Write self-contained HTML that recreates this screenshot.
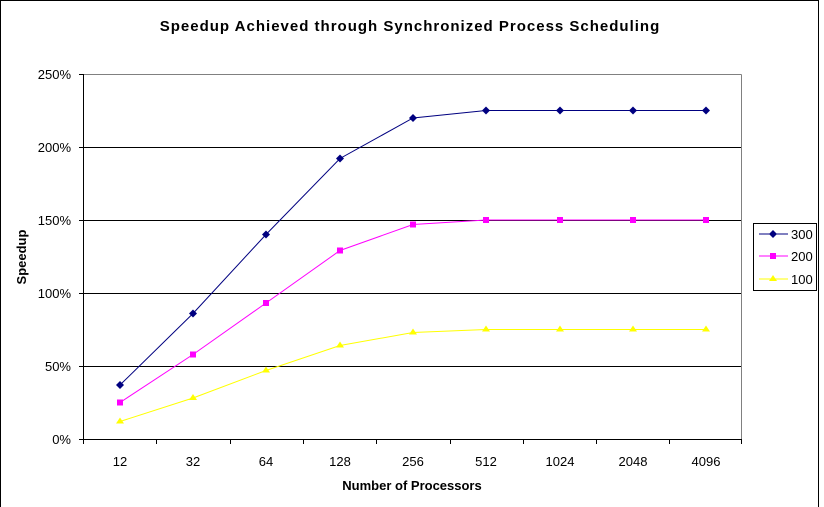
<!DOCTYPE html>
<html><head><meta charset="utf-8"><style>body{margin:0;background:#fff}svg{display:block}text{font-family:"Liberation Sans",Arial,sans-serif}</style></head><body>
<svg width="824" height="507" viewBox="0 0 824 507" xmlns="http://www.w3.org/2000/svg">
<rect x="0.5" y="0.5" width="818" height="520" fill="#fff" stroke="#000"/>
<text x="410" y="31" font-size="15" text-anchor="middle" font-weight="bold" letter-spacing="1" fill="#000">Speedup Achieved through Synchronized Process Scheduling</text>
<g stroke="#000" stroke-width="1">
<line x1="83" y1="147.5" x2="741" y2="147.5"/>
<line x1="83" y1="220.5" x2="741" y2="220.5"/>
<line x1="83" y1="293.5" x2="741" y2="293.5"/>
<line x1="83" y1="366.5" x2="741" y2="366.5"/>
</g>
<line x1="83" y1="74.5" x2="741.5" y2="74.5" stroke="#808080"/>
<line x1="741.5" y1="74.5" x2="741.5" y2="439" stroke="#808080"/>
<g stroke="#000">
<line x1="83.5" y1="74" x2="83.5" y2="439"/>
<line x1="79" y1="439.5" x2="742" y2="439.5"/>
<line x1="79" y1="74.5" x2="83" y2="74.5"/><line x1="79" y1="147.5" x2="83" y2="147.5"/><line x1="79" y1="220.5" x2="83" y2="220.5"/><line x1="79" y1="293.5" x2="83" y2="293.5"/><line x1="79" y1="366.5" x2="83" y2="366.5"/>
<line x1="83.5" y1="439" x2="83.5" y2="444"/><line x1="156.5" y1="439" x2="156.5" y2="444"/><line x1="230.5" y1="439" x2="230.5" y2="444"/><line x1="303.5" y1="439" x2="303.5" y2="444"/><line x1="376.5" y1="439" x2="376.5" y2="444"/><line x1="450.5" y1="439" x2="450.5" y2="444"/><line x1="523.5" y1="439" x2="523.5" y2="444"/><line x1="596.5" y1="439" x2="596.5" y2="444"/><line x1="669.5" y1="439" x2="669.5" y2="444"/><line x1="741.5" y1="439" x2="741.5" y2="444"/>
</g>
<g font-size="13" text-anchor="end" fill="#000">
<text x="71" y="79">250%</text><text x="71" y="152">200%</text><text x="71" y="225">150%</text><text x="71" y="298">100%</text><text x="71" y="371">50%</text><text x="71" y="444">0%</text>
</g>
<g font-size="13" text-anchor="middle" fill="#000">
<text x="120" y="466">12</text><text x="193" y="466">32</text><text x="266" y="466">64</text><text x="340" y="466">128</text><text x="413" y="466">256</text><text x="486" y="466">512</text><text x="560" y="466">1024</text><text x="633" y="466">2048</text><text x="706" y="466">4096</text>
</g>
<text x="412" y="490" font-size="13" font-weight="bold" text-anchor="middle">Number of Processors</text>
<text transform="translate(26,257) rotate(-90)" font-size="13" font-weight="bold" text-anchor="middle">Speedup</text>
<polyline fill="none" stroke="#ffff00" points="120,421.5 193,398 266,370.5 340,345.5 413,332.5 486,329.5 560,329.5 633,329.5 706,329.5"/>
<g fill="#ffff00"><path d="M120,417.5l4,6h-8z M193,394l4,6h-8z M266,366.5l4,6h-8z M340,341.5l4,6h-8z M413,328.5l4,6h-8z M486,325.5l4,6h-8z M560,325.5l4,6h-8z M633,325.5l4,6h-8z M706,325.5l4,6h-8z"/></g>
<polyline fill="none" stroke="#ff00ff" points="120,402.5 193,354.5 266,303 340,250.5 413,224.5 486,220 560,220 633,220 706,220"/>
<g fill="#ff00ff"><rect x="117" y="399.5" width="6" height="6"/><rect x="190" y="351.5" width="6" height="6"/><rect x="263" y="300" width="6" height="6"/><rect x="337" y="247.5" width="6" height="6"/><rect x="410" y="221.5" width="6" height="6"/><rect x="483" y="217" width="6" height="6"/><rect x="557" y="217" width="6" height="6"/><rect x="630" y="217" width="6" height="6"/><rect x="703" y="217" width="6" height="6"/></g>
<polyline fill="none" stroke="#000080" points="120,385 193,313.5 266,234.5 340,158.5 413,118 486,110.5 560,110.5 633,110.5 706,110.5"/>
<g fill="#000080"><path d="M120,381l4,4l-4,4l-4,-4z M193,309.5l4,4l-4,4l-4,-4z M266,230.5l4,4l-4,4l-4,-4z M340,154.5l4,4l-4,4l-4,-4z M413,114l4,4l-4,4l-4,-4z M486,106.5l4,4l-4,4l-4,-4z M560,106.5l4,4l-4,4l-4,-4z M633,106.5l4,4l-4,4l-4,-4z M706,106.5l4,4l-4,4l-4,-4z"/></g>
<rect x="753.5" y="223.5" width="63" height="67" fill="#fff" stroke="#000"/>
<line x1="759" y1="234" x2="788" y2="234" stroke="#000080"/><path d="M773,230l4,4l-4,4l-4,-4z" fill="#000080"/>
<line x1="759" y1="256" x2="788" y2="256" stroke="#ff00ff"/><rect x="770" y="253" width="6" height="6" fill="#ff00ff"/>
<line x1="759" y1="279" x2="788" y2="279" stroke="#ffff00"/><path d="M773,275l4,6h-8z" fill="#ffff00"/>
<g font-size="13" fill="#000"><text x="791" y="239">300</text><text x="791" y="261">200</text><text x="791" y="284">100</text></g>
</svg>
</body></html>
